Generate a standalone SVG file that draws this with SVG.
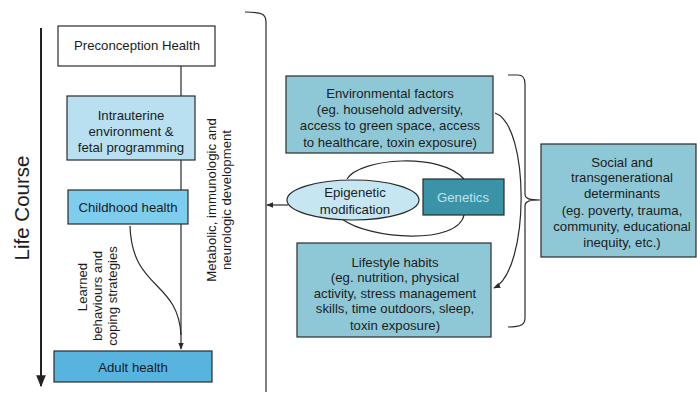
<svg xmlns="http://www.w3.org/2000/svg" width="697" height="397" viewBox="0 0 697 397">
<defs>
<style>
text{font-family:"Liberation Sans",Arial,sans-serif;fill:#1c1c1c;text-anchor:middle}
.t{font-size:13.2px}
.box{stroke:#2a2a2a;stroke-width:1.2}
.ln{fill:none;stroke:#2a2a2a;stroke-width:1.2}
</style>
<marker id="ah" viewBox="0 0 10 10" refX="9" refY="5" markerWidth="7" markerHeight="7" orient="auto-start-reverse" markerUnits="userSpaceOnUse">
<path d="M0,1 L10,5 L0,9 z" fill="#2a2a2a"/>
</marker>
<marker id="big" viewBox="0 0 10 10" refX="9" refY="5" markerWidth="12" markerHeight="12" orient="auto" markerUnits="userSpaceOnUse">
<path d="M0,1 L10,5 L0,9 z" fill="#222"/>
</marker>
</defs>
<rect width="697" height="397" fill="#ffffff"/>

<g id="lifecourse">
<line x1="41" y1="28" x2="41" y2="386" stroke="#222" stroke-width="2" marker-end="url(#big)"/>
<text transform="translate(29,208) rotate(-90)" style="font-size:20.5px">Life Course</text>
</g>

<g id="connectors">
<line class="ln" x1="181" y1="66" x2="181" y2="96"/>
<line class="ln" x1="181" y1="160" x2="181" y2="190"/>
<line class="ln" x1="181" y1="224" x2="181" y2="349" marker-end="url(#ah)"/>
<path class="ln" d="M130,226 C132,290 178,280 181,335"/>
<path class="ln" d="M245,12 C262,12 266,14 266,22 L266,392"/>
<line class="ln" x1="288" y1="205" x2="267" y2="205" marker-end="url(#ah)"/>
<path class="ln" d="M347,179 C360,158 440,152 464,179"/>
<path class="ln" d="M464,215 C458,245 370,240 342,219"/>
<path class="ln" d="M495,113 C530,125 530,270 494,288" marker-end="url(#ah)"/>
<path class="ln" d="M508,75 L518,75 C523,75 525,78 525,84 L525,194 C525,199 530,200 540,200 C530,200 525,201 525,206 L525,318 C525,324 522,327 508,327"/>
</g>

<g id="preconception">
<rect class="box" x="58" y="26" width="157" height="40" fill="#ffffff"/>
<text class="t" x="137" y="50">Preconception Health</text>
</g>

<g id="intrauterine">
<rect class="box" x="67" y="96" width="128" height="64" fill="#b8e0f0"/>
<text class="t" x="131" y="119.5">Intrauterine</text>
<text class="t" x="131" y="135.5">environment &amp;</text>
<text class="t" x="131" y="151.5">fetal programming</text>
</g>

<g id="childhood">
<rect class="box" x="68" y="190" width="120" height="34" fill="#7ecdec"/>
<text class="t" x="128" y="212">Childhood health</text>
</g>

<g id="adult">
<rect class="box" x="54" y="351" width="158" height="31" fill="#56b4de"/>
<text class="t" x="133" y="371.5">Adult health</text>
</g>

<g id="learned">
<text class="t" transform="translate(87,287) rotate(-90)">Learned</text>
<text class="t" transform="translate(102,296) rotate(-90)">behaviours and</text>
<text class="t" transform="translate(117,296) rotate(-90)">coping strategies</text>
</g>

<g id="metabolic">
<text class="t" transform="translate(216,200) rotate(-90)">Metabolic, immunologic and</text>
<text class="t" transform="translate(231,200) rotate(-90)">neurologic development</text>
</g>

<g id="environmental">
<rect class="box" x="286" y="76" width="207" height="77" fill="#8ec8d7"/>
<text class="t" x="390" y="97.5">Environmental factors</text>
<text class="t" x="390" y="114">(eg. household adversity,</text>
<text class="t" x="390" y="130">access to green space, access</text>
<text class="t" x="390" y="146.5">to healthcare, toxin exposure)</text>
</g>

<g id="epigenetic">
<ellipse class="box" cx="353" cy="200" rx="66" ry="20" fill="#c6e6f2"/>
<text class="t" x="355" y="197">Epigenetic</text>
<text class="t" x="355" y="214">modification</text>
</g>

<g id="genetics">
<rect class="box" x="423" y="179" width="81" height="36" fill="#3a93a6"/>
<text class="t" x="463" y="202" style="fill:#c2e2ea">Genetics</text>
</g>

<g id="lifestyle">
<rect class="box" x="297" y="243" width="194" height="94" fill="#8ec8d7"/>
<text class="t" x="395" y="266.5">Lifestyle habits</text>
<text class="t" x="395" y="282">(eg. nutrition, physical</text>
<text class="t" x="395" y="297.5">activity, stress management</text>
<text class="t" x="395" y="313">skills, time outdoors, sleep,</text>
<text class="t" x="395" y="329.5">toxin exposure)</text>
</g>

<g id="social">
<rect class="box" x="541" y="144" width="155" height="113" fill="#8ec8d7"/>
<text class="t" x="622" y="166.5">Social and</text>
<text class="t" x="622" y="182">transgenerational</text>
<text class="t" x="622" y="198">determinants</text>
<text class="t" x="622" y="214.5">(eg. poverty, trauma,</text>
<text class="t" x="622" y="230.5">community, educational</text>
<text class="t" x="622" y="246.5">inequity, etc.)</text>
</g>
</svg>
